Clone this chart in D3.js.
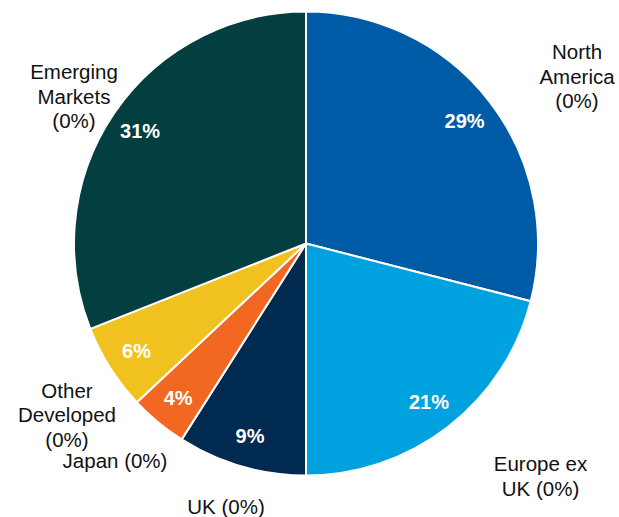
<!DOCTYPE html>
<html>
<head>
<meta charset="utf-8">
<script src="https://cdn.jsdelivr.net/npm/d3@7"></script>
<style>
  html, body { margin: 0; padding: 0; background: #ffffff; }
  svg { display: block; }
</style>
</head>
<body>
<svg id="chart" width="619" height="517"></svg>
<script>
// ---- data ----
const categories = ["North America", "Europe ex UK", "UK", "Japan", "Other Developed", "Emerging Markets"];
const values = [29, 21, 9, 4, 6, 31];
const valueLabels = ["29%", "21%", "9%", "4%", "6%", "31%"];
const outerLabelLines = [
  ["North", "America", "(0%)"],
  ["Europe ex", "UK (0%)"],
  ["UK (0%)"],
  ["Japan (0%)"],
  ["Other", "Developed", "(0%)"],
  ["Emerging", "Markets", "(0%)"]
];
const colors = ["#005BA6", "#00A1DF", "#002A4F", "#F26722", "#F1C21F", "#033F40"];

// ---- layout (not data) ----
const W = 619, H = 517;
const cx = 306, cy = 243.5, R = 232;
// outer label centres (x, y of first line centre), Excel-style placement
const outerLabelPos = [
  [577, 52], [540.5, 464], [226, 507], [115, 461], [67, 390.5], [74, 72]
];
const lineH = 24.6;

const svg = d3.select("#chart");
const g = svg.append("g").attr("transform", `translate(${cx},${cy})`);

const pie = d3.pie().sort(null).value(d => d)(values);
const arc = d3.arc().innerRadius(0).outerRadius(R);
const labelArc = d3.arc().innerRadius(R * 0.865).outerRadius(R * 0.865);

g.selectAll("path.slice")
  .data(pie)
  .join("path")
  .attr("class", "slice")
  .attr("d", arc)
  .attr("fill", (d, i) => colors[i])
  .attr("stroke", "#ffffff")
  .attr("stroke-width", 2)
  .attr("stroke-linejoin", "round");

g.selectAll("text.val")
  .data(pie)
  .join("text")
  .attr("class", "val")
  .attr("transform", d => `translate(${labelArc.centroid(d)})`)
  .attr("text-anchor", "middle")
  .attr("dy", "0.35em")
  .attr("fill", "#ffffff")
  .attr("font-family", "Liberation Sans, Arial, sans-serif")
  .attr("font-weight", "bold")
  .attr("font-size", 20)
  .text((d, i) => valueLabels[i]);

const outer = svg.selectAll("text.outer")
  .data(categories)
  .join("text")
  .attr("class", "outer")
  .attr("text-anchor", "middle")
  .attr("fill", "#111111")
  .attr("font-family", "Liberation Sans, Arial, sans-serif")
  .attr("font-size", 20.5);

outer.each(function(d, i) {
  const t = d3.select(this);
  const [x, y] = outerLabelPos[i];
  outerLabelLines[i].forEach((line, k) => {
    t.append("tspan")
      .attr("x", x)
      .attr("y", y + k * lineH)
      .attr("dy", "0.35em")
      .text(line);
  });
});
</script>
</body>
</html>
